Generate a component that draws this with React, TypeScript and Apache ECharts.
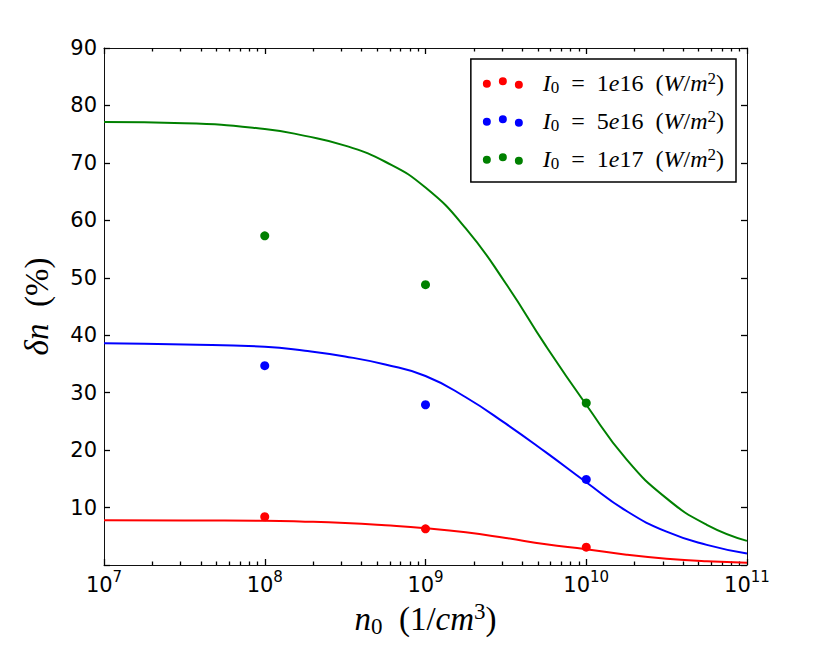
import React, { useEffect, useRef } from "react";
import * as echarts from "echarts";

// ---------- data ----------
const curveN = [1e7, 3.16e7, 1e8, 1.78e8, 3.16e8, 5.62e8, 1e9, 1.78e9, 3.16e9, 5.62e9, 1e10, 1.78e10, 3.16e10, 5.62e10, 1e11];
const curveRed = [7.8, 7.75, 7.7, 7.55, 7.3, 6.9, 6.4, 5.7, 4.7, 3.6, 2.75, 1.8, 1.1, 0.65, 0.4];
const curveBlue = [38.6, 38.4, 38.0, 37.3, 36.3, 34.9, 32.9, 29.2, 24.6, 19.6, 14.4, 9.4, 5.8, 3.5, 2.0];
const curveGreen = [77.1, 76.9, 75.9, 74.7, 73.0, 70.2, 65.7, 58.6, 49.0, 38.1, 27.9, 18.4, 11.6, 7.0, 4.2];

const pointN = [1e8, 1e9, 1e10];
const pointRed = [8.4, 6.3, 3.1];
const pointBlue = [34.7, 27.9, 14.9];
const pointGreen = [57.3, 48.8, 28.2];

const intensities = ["1e16", "5e16", "1e17"];
const colors = ["#ff0000", "#0000ff", "#008000"];

const xMajorTicks = [1e7, 1e8, 1e9, 1e10, 1e11];
const xMinorMultipliers = [2, 3, 4, 5, 6, 7, 8, 9];
const yMin = 0;
const yMax = 90;
const yStep = 10;

const xMinorTicks: number[] = [];
for (let i = 0; i < xMajorTicks.length - 1; i++) {
  for (const m of xMinorMultipliers) xMinorTicks.push(xMajorTicks[i] * m);
}

const zip = (xs: number[], ys: number[]) => xs.map((x, i) => [x, ys[i]]);

const SERIF = "'Liberation Serif', 'DejaVu Serif', serif";
const SANS = "'DejaVu Sans', sans-serif";

const dotsIcon =
  "path://M0,6.3a4,4 0 1,0 8,0a4,4 0 1,0 -8,0Z M16,4a4,4 0 1,0 8,0a4,4 0 1,0 -8,0Z M32,7.3a4,4 0 1,0 8,0a4,4 0 1,0 -8,0Z";

export default function App() {
  const ref = useRef<HTMLDivElement>(null);

  useEffect(() => {
    if (!ref.current) return;
    const chart = echarts.init(ref.current, undefined, { renderer: "svg" });

    const seriesNames = intensities.map((v) => "I0=" + v);
    const curves = [curveRed, curveBlue, curveGreen];
    const points = [pointRed, pointBlue, pointGreen];

    const ls = () => ({ color: "#111", width: 1 });
    const tk = () => ({ color: "#000", width: 1.3 });

    const series: any[] = [];
    curves.forEach((c, i) => {
      series.push({
        type: "line",
        name: "fit" + i,
        xAxisIndex: 0,
        yAxisIndex: 0,
        data: zip(curveN, c),
        smooth: 0.5,
        showSymbol: false,
        symbol: "none",
        lineStyle: { color: colors[i], width: 2 },
        itemStyle: { color: colors[i] },
        z: 2,
      });
    });
    points.forEach((p, i) => {
      series.push({
        type: "scatter",
        name: seriesNames[i],
        xAxisIndex: 0,
        yAxisIndex: 0,
        data: zip(pointN, p),
        symbol: "circle",
        symbolSize: 9,
        itemStyle: { color: colors[i], opacity: 1 },
        z: 3,
      });
    });

    const baseX = () => ({
      type: "log",
      logBase: 10,
      min: xMajorTicks[0],
      max: xMajorTicks[xMajorTicks.length - 1],
      splitLine: { show: false },
    });

    const legendRich: any = {
      i: { fontFamily: SERIF, fontStyle: "italic", fontSize: 24, color: "#000", lineHeight: 26 },
      n: { fontFamily: SERIF, fontSize: 24, color: "#000", lineHeight: 26 },
      sub: { fontFamily: SERIF, fontSize: 17, color: "#000", verticalAlign: "bottom", lineHeight: 20 },
      sup: { fontFamily: SERIF, fontSize: 17, color: "#000", verticalAlign: "top", lineHeight: 17 },
    };

    const titleRich = () => ({
      i: { fontFamily: SERIF, fontStyle: "italic", fontSize: 33, color: "#000", lineHeight: 38 },
      n: { fontFamily: SERIF, fontSize: 33, color: "#000", lineHeight: 38 },
      sub: { fontFamily: SERIF, fontSize: 23, color: "#000", verticalAlign: "bottom", lineHeight: 30 },
      sup: { fontFamily: SERIF, fontSize: 23, color: "#000", verticalAlign: "top", lineHeight: 23 },
    });

    const option: any = {
      animation: false,
      backgroundColor: "#fff",
      grid: { left: 104, right: 83, top: 48, bottom: 81, containLabel: false },
      legend: {
        show: true,
        data: seriesNames,
        orient: "vertical",
        right: 94,
        top: 59,
        padding: [11, 12, 10, 12],
        itemGap: 12,
        itemWidth: 40,
        itemHeight: 11.3,
        icon: dotsIcon,
        borderColor: "#000",
        borderWidth: 1.5,
        borderRadius: 0,
        backgroundColor: "#fff",
        z: 10,
        formatter: (name: string) => {
          const idx = seriesNames.indexOf(name);
          const v = intensities[idx];
          const mant = v.split("e")[0];
          const ex = v.split("e")[1];
          return `{i|I}{sub|0}{n|  =  ${mant}}{i|e}{n|${ex}  (}{i|W}{n|/}{i|m}{sup|2}{n|)}`;
        },
        textStyle: { padding: [0, 0, 0, 15], rich: legendRich },
      },
      xAxis: [
        {
          ...baseX(),
          position: "bottom",
          name: "{i|n}{sub|0}{n|  (1/}{i|cm}{sup|3}{n|)}",
          nameLocation: "middle",
          nameGap: 34,
          nameTextStyle: { rich: titleRich() },
          axisLine: { show: true, onZero: false, lineStyle: ls() },
          axisTick: { show: true, inside: true, length: 6, customValues: xMajorTicks, lineStyle: tk() },
          axisLabel: {
            show: true,
            customValues: xMajorTicks,
            margin: 4,
            formatter: (v: number) => `{b|10}{s|${Math.round(Math.log10(v))}}`,
            rich: {
              b: { fontFamily: SANS, fontSize: 21, color: "#000", lineHeight: 26, verticalAlign: "bottom" },
              s: { fontFamily: SANS, fontSize: 15, color: "#000", lineHeight: 15, verticalAlign: "top" },
            },
          },
        },
        {
          ...baseX(),
          position: "top",
          axisLine: { show: true, onZero: false, lineStyle: ls() },
          axisTick: { show: true, inside: true, length: 6, customValues: xMajorTicks, lineStyle: tk() },
          axisLabel: { show: false },
        },
        {
          ...baseX(),
          position: "bottom",
          axisLine: { show: false, onZero: false },
          axisTick: { show: true, inside: true, length: 3.5, customValues: xMinorTicks, lineStyle: tk() },
          axisLabel: { show: false },
        },
        {
          ...baseX(),
          position: "top",
          axisLine: { show: false, onZero: false },
          axisTick: { show: true, inside: true, length: 3.5, customValues: xMinorTicks, lineStyle: tk() },
          axisLabel: { show: false },
        },
      ],
      yAxis: [
        {
          type: "value",
          position: "left",
          min: yMin,
          max: yMax,
          interval: yStep,
          name: "{i|δn}{n|  (%)}",
          nameLocation: "middle",
          nameRotate: 90,
          nameGap: 48,
          nameTextStyle: { rich: titleRich() },
          splitLine: { show: false },
          axisLine: { show: true, onZero: false, lineStyle: ls() },
          axisTick: { show: true, inside: true, length: 6, lineStyle: tk() },
          axisLabel: {
            show: true,
            margin: 7,
            fontFamily: SANS,
            fontSize: 21,
            color: "#000",
            formatter: (v: number) => (v === yMin ? "" : String(v)),
          },
        },
        {
          type: "value",
          position: "right",
          min: yMin,
          max: yMax,
          interval: yStep,
          splitLine: { show: false },
          axisLine: { show: true, onZero: false, lineStyle: ls() },
          axisTick: { show: true, inside: true, length: 6, lineStyle: tk() },
          axisLabel: { show: false },
        },
      ],
      series,
    };

    chart.setOption(option);
    return () => chart.dispose();
  }, []);

  return <div ref={ref} style={{ width: 830, height: 646, margin: -8 }} />;
}
